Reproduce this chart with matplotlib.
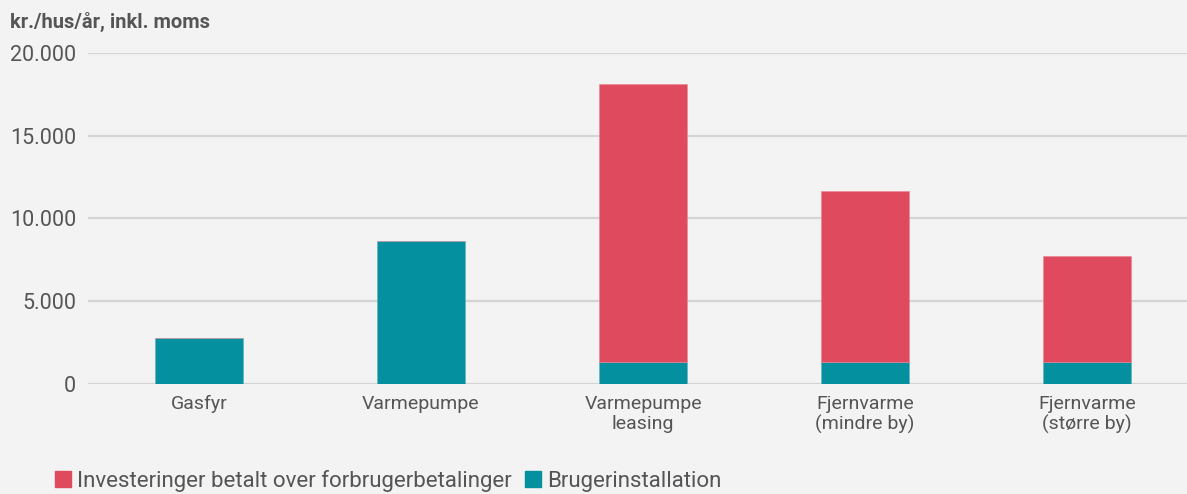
import matplotlib.pyplot as plt
from matplotlib.patches import Patch
from matplotlib.ticker import FuncFormatter

categories = ["Gasfyr", "Varmepumpe", "Varmepumpe\nleasing",
              "Fjernvarme\n(mindre by)", "Fjernvarme\n(større by)"]
brugerinstallation = [2750, 8650, 1350, 1350, 1350]
investeringer = [0, 0, 16750, 10330, 6400]
yticks = [0, 5000, 10000, 15000, 20000]

RED = "#E04A5F"
TEAL = "#04909F"
BG = "#F2F3F2"
GRID = "#D3D4D3"
TEXT = "#555555"

plt.rcParams["font.family"] = ["Roboto", "DejaVu Sans"]

fig = plt.figure(figsize=(11.87, 4.94), dpi=100, facecolor=BG)
ax = fig.add_axes([88 / 1187, 110 / 494, 1 - 88 / 1187, 331 / 494])
ax.set_facecolor(BG)

x = list(range(len(categories)))
ax.bar(x, brugerinstallation, width=0.4, color=TEAL, zorder=3,
       edgecolor="#5FB3BD", linewidth=0.4)
ax.bar(x, investeringer, width=0.4, bottom=brugerinstallation, color=RED,
       zorder=3, edgecolor="#EA8594", linewidth=0.4)

ax.set_xlim(-0.5, 4.45)
ax.set_ylim(0, 20000)
ax.set_yticks(yticks)
ax.yaxis.set_major_formatter(FuncFormatter(lambda v, p: f"{int(v):,}".replace(",", ".")))
ax.set_xticks(x)
ax.set_xticklabels(categories, fontsize=14, color=TEXT, linespacing=1.1)
ax.tick_params(axis="y", length=0, pad=8.5, labelsize=15.5, labelcolor=TEXT)
ax.tick_params(axis="x", length=0, pad=8)
ax.grid(axis="y", color=GRID, linewidth=1.6, zorder=0)
for s in ax.spines.values():
    s.set_visible(False)

fig.text(10 / 1187, 1 - 22 / 494, "kr./hus/år, inkl. moms", fontsize=14.5,
         fontweight="bold", color=TEXT, va="center", ha="left")

handles = [Patch(color=RED, label="Investeringer betalt over forbrugerbetalinger"),
           Patch(color=TEAL, label="Brugerinstallation")]
fig.legend(handles=handles, loc="lower left", bbox_to_anchor=(55 / 1187, 2 / 494),
           ncol=2, frameon=False, handlelength=0.7, handleheight=0.7,
           handletextpad=0.3, columnspacing=0.6, borderpad=0, borderaxespad=0,
           prop={"family": ["Roboto", "DejaVu Sans"], "size": 16},
           labelcolor=TEXT)

fig.savefig("out.png", dpi=100, facecolor=BG)
